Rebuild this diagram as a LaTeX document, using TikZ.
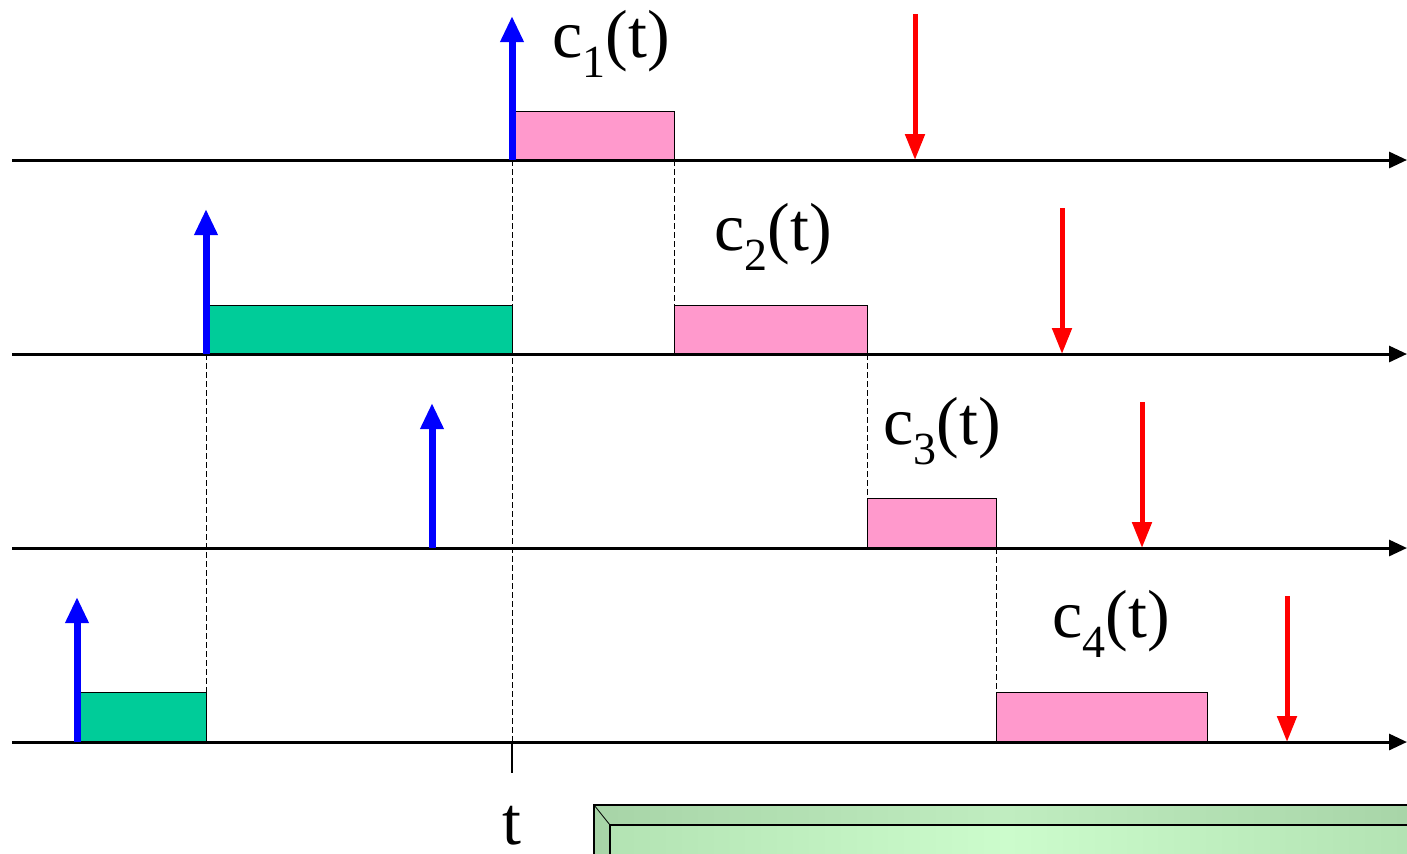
\documentclass[tikz,border=0pt]{standalone}
\usepackage{fontspec}
\setmainfont{Liberation Serif}
\usetikzlibrary{arrows.meta}
\definecolor{pinkbox}{HTML}{FF99CC}
\definecolor{greenbox}{HTML}{00CC99}
\definecolor{lgA}{HTML}{B2E2B2}
\definecolor{lgB}{HTML}{CCFCCC}
\begin{document}
\begin{tikzpicture}[x=0.5pt,y=-0.5pt,
  axis/.style={line width=1.5pt,-{Triangle[length=9pt,width=8pt]}},
  startarr/.style={blue,line width=3.5pt,-{Triangle[length=13pt,width=11pt]}},
  endarr/.style={red,line width=2.5pt,-{Triangle[length=13pt,width=9.5pt]}},
  pinkjob/.style={fill=pinkbox,draw=black,line width=0.5pt},
  greenjob/.style={fill=greenbox,draw=black,line width=0.5pt},
  guide/.style={line width=0.5pt,dash pattern=on 3pt off 1.5pt},
  lab/.style={font=\fontsize{34}{40}\selectfont,inner sep=0pt}]
\useasboundingbox (0,0) rectangle (1407,853);
\begin{scope}
\clip (0,0) rectangle (1407,853);
% bottom bevelled green panel
\fill[left color=lgA,right color=lgA,middle color=lgB] (594,805) rectangle (1420,870);
\fill[black,opacity=0.06] (594,805) -- (1420,805) -- (1420,825) -- (610,825) -- (610,870) -- (594,870) -- cycle;
\draw[line width=0.6pt] (594,870) -- (594,805) -- (1420,805);
\draw[line width=0.6pt] (610,870) -- (610,825) -- (1420,825);
\draw[line width=0.4pt] (594,805) -- (610,825);
\end{scope}
% axis coordinates
\foreach \n/\y in {1/160,2/354,3/548,4/742}{
  \coordinate (s\n) at (12,\y);
  \coordinate (e\n) at (1407,\y);
}
% job boxes
\node[pinkjob,minimum width=81pt,minimum height=24pt,inner sep=0pt,anchor=south west] (p1) at (512,160) {};
\node[pinkjob,minimum width=96.5pt,minimum height=24pt,inner sep=0pt,anchor=south west] (p2) at (674,354) {};
\node[pinkjob,minimum width=64.5pt,minimum height=24.5pt,inner sep=0pt,anchor=south west] (p3) at (867,548) {};
\node[pinkjob,minimum width=105.5pt,minimum height=24.5pt,inner sep=0pt,anchor=south west] (p4) at (996,742) {};
\node[greenjob,minimum width=153pt,minimum height=24pt,inner sep=0pt,anchor=south west] (g2) at (206,354) {};
\node[greenjob,minimum width=64.5pt,minimum height=24.5pt,inner sep=0pt,anchor=south west] (g4) at (77,742) {};
% guide lines
\coordinate (d1a) at (512,160); \coordinate (d1b) at (512,742); \coordinate (d1c) at (512,773);
\coordinate (d2a) at (674,160); \coordinate (d2b) at (674,306);
\coordinate (d3a) at (206,354); \coordinate (d3b) at (206,693);
\coordinate (d4a) at (867,354); \coordinate (d4b) at (867,499);
\coordinate (d5a) at (996,548); \coordinate (d5b) at (996,693);
\draw[guide] (d1a) -- (d1b);
\draw[line width=0.6pt] (d1b) -- (d1c);
\draw[guide] (d2a) -- (d2b);
\draw[guide] (d3a) -- (d3b);
\draw[guide] (d4a) -- (d4b);
\draw[guide] (d5a) -- (d5b);
% axes
\foreach \n in {1,2,3,4}{ \draw[axis] (s\n) -- (e\n); }
% arrival (blue) arrows
\coordinate (b1a) at (512,160); \coordinate (b1b) at (512,16);
\coordinate (b2a) at (206,354); \coordinate (b2b) at (206,209);
\coordinate (b3a) at (432,548); \coordinate (b3b) at (432,403);
\coordinate (b4a) at (77,742);  \coordinate (b4b) at (77,597);
\foreach \n in {1,2,3,4}{ \draw[startarr] (b\n a) -- (b\n b); }
% deadline (red) arrows
\coordinate (r1a) at (915,14);   \coordinate (r1b) at (915,160);
\coordinate (r2a) at (1062,208); \coordinate (r2b) at (1062,354);
\coordinate (r3a) at (1142,402); \coordinate (r3b) at (1142,548);
\coordinate (r4a) at (1287,596); \coordinate (r4b) at (1287,742);
\foreach \n in {1,2,3,4}{ \draw[endarr] (r\n a) -- (r\n b); }
% labels
\newcommand{\clab}[1]{c\raisebox{-0.3em}{\fontsize{23}{23}\selectfont #1}(t)}
\node[lab] (l1) at (611,44) {\clab{1}};
\node[lab] (l2) at (773,237) {\clab{2}};
\node[lab] (l3) at (942,431) {\clab{3}};
\node[lab] (l4) at (1111,624) {\clab{4}};
\node[lab] (tl) at (512,826) {t};
\end{tikzpicture}
\end{document}
